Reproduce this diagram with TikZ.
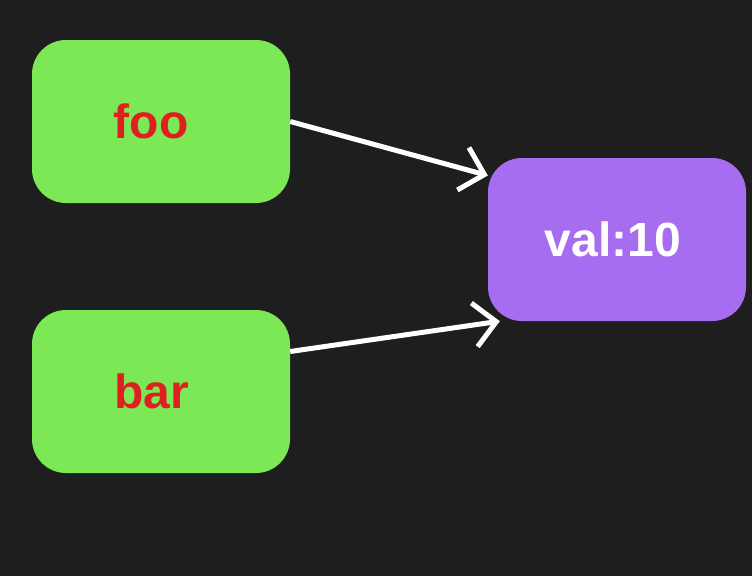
\documentclass[tikz,border=0pt]{standalone}
\usepackage{fontspec}
\setmainfont{Liberation Sans}
\usetikzlibrary{arrows.meta}
\definecolor{bg}{HTML}{1E1E1E}
\definecolor{gr}{HTML}{7DE855}
\definecolor{pu}{HTML}{A66DF0}
\definecolor{rd}{HTML}{E02020}
\begin{document}
\begin{tikzpicture}[x=1pt,y=-1pt,
  box/.style={rounded corners=34pt,minimum width=258pt,minimum height=163pt,inner sep=0pt,font=\fontsize{48}{54}\selectfont\bfseries},
  arr/.style={draw=white,line width=5pt,-{Straight Barb[length=22pt,width=44pt,line width=5pt]}}]
\fill[bg] (0,0) rectangle (752,576);
\useasboundingbox (0,0) rectangle (752,576);
\node[box,fill=gr,text=rd] (foo) at (161,121.5) {\hspace*{-20pt}foo};
\node[box,fill=gr,text=rd] (bar) at (161,391.5) {\hspace*{-18pt}bar};
\node[box,fill=pu,text=white] (val) at (617,239.5) {\hspace*{-8pt}val:10};
\draw[arr] (foo.east) -- ([yshift=64pt]val.west);
\draw[arr] ([yshift=40pt]bar.east) -- ([xshift=12pt]val.south west);
\end{tikzpicture}
\end{document}
